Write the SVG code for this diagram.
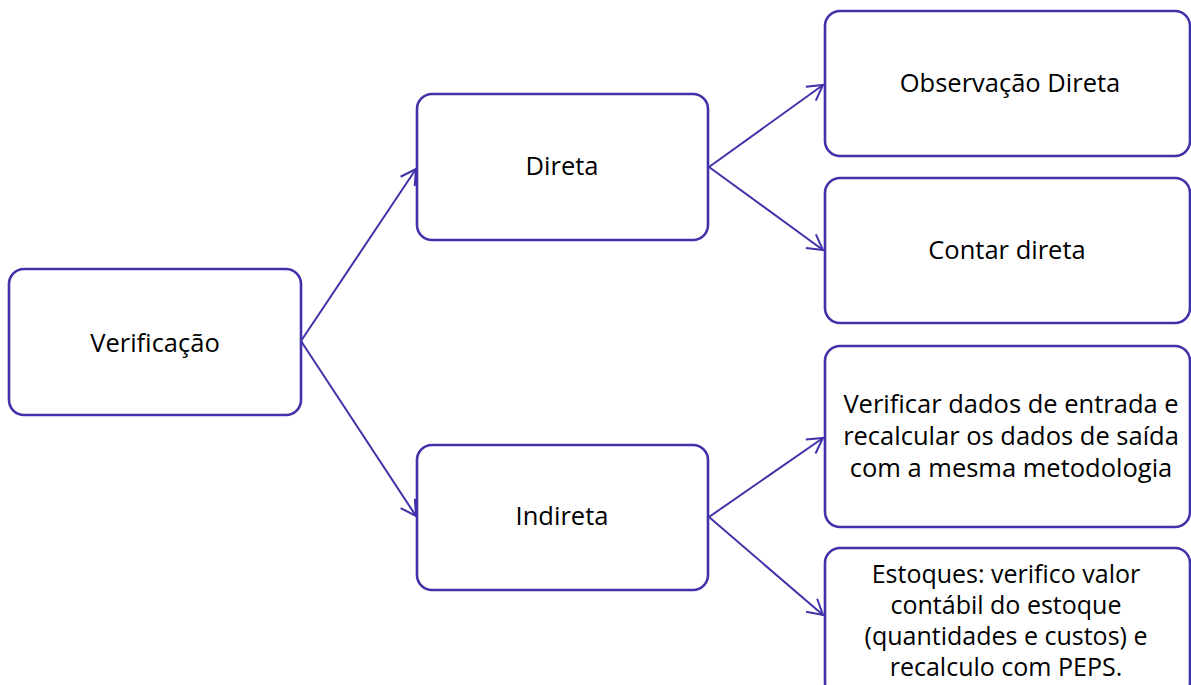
<svg xmlns="http://www.w3.org/2000/svg" width="1191" height="685" viewBox="0 0 1191 685">
<style>
.box{fill:#ffffff;stroke:#4032a8;stroke-width:2.6}
.lbl{font-family:"Open Sans","Liberation Sans",sans-serif;font-size:25.5px;fill:#000000;text-anchor:middle}
.sm{font-size:25px}
.con{stroke:#4032a8;stroke-width:2;fill:none;marker-end:url(#arr)}
</style>
<defs>
<marker id="arr" markerUnits="userSpaceOnUse" markerWidth="30" markerHeight="30" viewBox="-20 -15 30 30" refX="0" refY="0" orient="auto" overflow="visible">
<path d="M -15 -8.5 L 0 0 L -15 8.5" fill="none" stroke="#4032a8" stroke-width="2"/>
</marker>
</defs>
<rect width="1191" height="685" fill="#ffffff"/>
<g id="connectors">
<line class="con" x1="301" y1="341" x2="416" y2="169"/>
<line class="con" x1="301" y1="341" x2="416" y2="516"/>
<line class="con" x1="709" y1="167" x2="823" y2="85"/>
<line class="con" x1="709" y1="167" x2="823" y2="250"/>
<line class="con" x1="709" y1="517" x2="823" y2="438"/>
<line class="con" x1="709" y1="517" x2="823" y2="615"/>
</g>
<g id="verificacao">
<rect class="box" x="9" y="269" width="292" height="146" rx="15"/>
<text class="lbl" x="155" y="352">Verificação</text>
</g>
<g id="direta">
<rect class="box" x="417" y="94" width="291" height="146" rx="15"/>
<text class="lbl" x="562" y="175">Direta</text>
</g>
<g id="indireta">
<rect class="box" x="417" y="445" width="291" height="145" rx="15"/>
<text class="lbl" x="562" y="525">Indireta</text>
</g>
<g id="observacao-direta">
<rect class="box" x="825" y="11" width="365" height="145" rx="15"/>
<text class="lbl" x="1010" y="92">Observação Direta</text>
</g>
<g id="contar-direta">
<rect class="box" x="825" y="178" width="365" height="145" rx="15"/>
<text class="lbl" x="1007" y="259">Contar direta</text>
</g>
<g id="verificar-dados">
<rect class="box" x="825" y="346" width="365" height="181" rx="15"/>
<text class="lbl" x="1011" y="413">Verificar dados de entrada e</text>
<text class="lbl" x="1011" y="445">recalcular os dados de saída</text>
<text class="lbl" x="1011" y="477">com a mesma metodologia</text>
</g>
<g id="estoques">
<rect class="box" x="825" y="548" width="365" height="150" rx="15"/>
<text class="lbl sm" x="1006" y="583">Estoques: verifico valor</text>
<text class="lbl sm" x="1006" y="614">contábil do estoque</text>
<text class="lbl sm" x="1006" y="645">(quantidades e custos) e</text>
<text class="lbl sm" x="1006" y="676">recalculo com PEPS.</text>
</g>
</svg>
